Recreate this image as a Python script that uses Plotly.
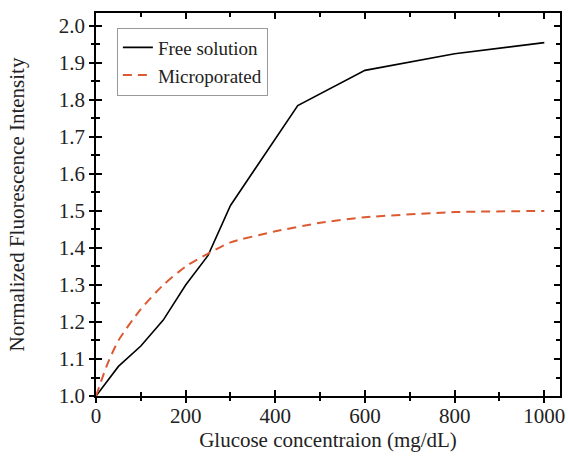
import plotly.graph_objects as go

# Data
free_x = [0, 50, 100, 150, 200, 250, 300, 450, 600, 800, 1000]
free_y = [1.0, 1.08, 1.135, 1.205, 1.30, 1.38, 1.515, 1.785, 1.88, 1.925, 1.955]

micro_x = [0, 25, 50, 100, 150, 200, 250, 300, 400, 500, 600, 800, 1000]
micro_y = [1.0, 1.085, 1.15, 1.235, 1.30, 1.35, 1.385, 1.415, 1.445, 1.468, 1.483, 1.497, 1.50]

x_ticks = [0, 200, 400, 600, 800, 1000]
y_ticks = [1.0, 1.1, 1.2, 1.3, 1.4, 1.5, 1.6, 1.7, 1.8, 1.9, 2.0]

XR = [0, 1035]
YR = [1.0, 2.035]
FONT = "Liberation Serif"
FS = 21
TXT = "#222"

fig = go.Figure()
fig.add_trace(go.Scatter(x=free_x, y=free_y, mode="lines", name="Free solution",
                         line=dict(color="black", width=1.6)))
fig.add_trace(go.Scatter(x=micro_x, y=micro_y, mode="lines", name="Microporated",
                         line=dict(color="#dc5a32", width=2, dash="9px,6px", shape="spline", smoothing=0.6)))
# invisible trace for overlay axes (outside ticks)
fig.add_trace(go.Scatter(x=[XR[0]], y=[YR[0]], xaxis="x2", yaxis="y2", mode="markers",
                         marker=dict(opacity=0), showlegend=False, hoverinfo="skip"))

axis_common = dict(showline=True, linecolor="black", linewidth=1.5, showgrid=False,
                   zeroline=False, automargin=False)

fig.update_layout(
    width=568, height=468,
    margin=dict(l=96, r=8, t=13, b=72),
    paper_bgcolor="white", plot_bgcolor="white",
    font=dict(family=FONT, color=TXT, size=FS),
    showlegend=True,
    legend=dict(x=0.045, y=0.962, xanchor="left", yanchor="top",
                bordercolor="#999", borderwidth=1, bgcolor="white",
                font=dict(family=FONT, size=19, color=TXT),
                tracegroupgap=0, itemwidth=30),
    xaxis=dict(range=XR, tickvals=x_ticks, ticktext=[str(v) for v in x_ticks],
               ticks="inside", ticklen=6, tickwidth=1.5, tickcolor="black", mirror="ticks",
               minor=dict(ticks="inside", dtick=100, tick0=0, ticklen=4, tickwidth=1.5, tickcolor="black"),
               tickfont=dict(family=FONT, size=FS, color=TXT), ticklabelstandoff=0,
               title=dict(text="Glucose concentraion (mg/dL)", font=dict(family=FONT, size=FS, color=TXT), standoff=5),
               **axis_common),
    yaxis=dict(range=YR, tickvals=y_ticks, ticktext=[f"{v:.1f}" for v in y_ticks],
               ticks="inside", ticklen=6, tickwidth=1.5, tickcolor="black", mirror="ticks",
               minor=dict(ticks="inside", dtick=0.05, tick0=1.0, ticklen=4, tickwidth=1.5, tickcolor="black"),
               tickfont=dict(family=FONT, size=FS, color=TXT), ticklabelstandoff=5,
               title=dict(text="Normalized Fluorescence Intensity", font=dict(family=FONT, size=FS, color=TXT), standoff=28),
               **axis_common),
    xaxis2=dict(range=XR, overlaying="x", side="bottom", tickvals=x_ticks, showticklabels=False,
                ticks="outside", ticklen=6, tickwidth=1.5, tickcolor="black",
                minor=dict(ticks="outside", dtick=100, tick0=0, ticklen=4, tickwidth=1.5, tickcolor="black"),
                showline=False, showgrid=False, zeroline=False, automargin=False),
    yaxis2=dict(range=YR, overlaying="y", side="left", tickvals=y_ticks, showticklabels=False,
                ticks="outside", ticklen=6, tickwidth=1.5, tickcolor="black",
                minor=dict(ticks="outside", dtick=0.05, tick0=1.0, ticklen=4, tickwidth=1.5, tickcolor="black"),
                showline=False, showgrid=False, zeroline=False, automargin=False),
)

fig.write_html("out.html", config={"displayModeBar": False},
               post_script="document.body.style.margin='0';document.body.style.overflow='hidden';")
